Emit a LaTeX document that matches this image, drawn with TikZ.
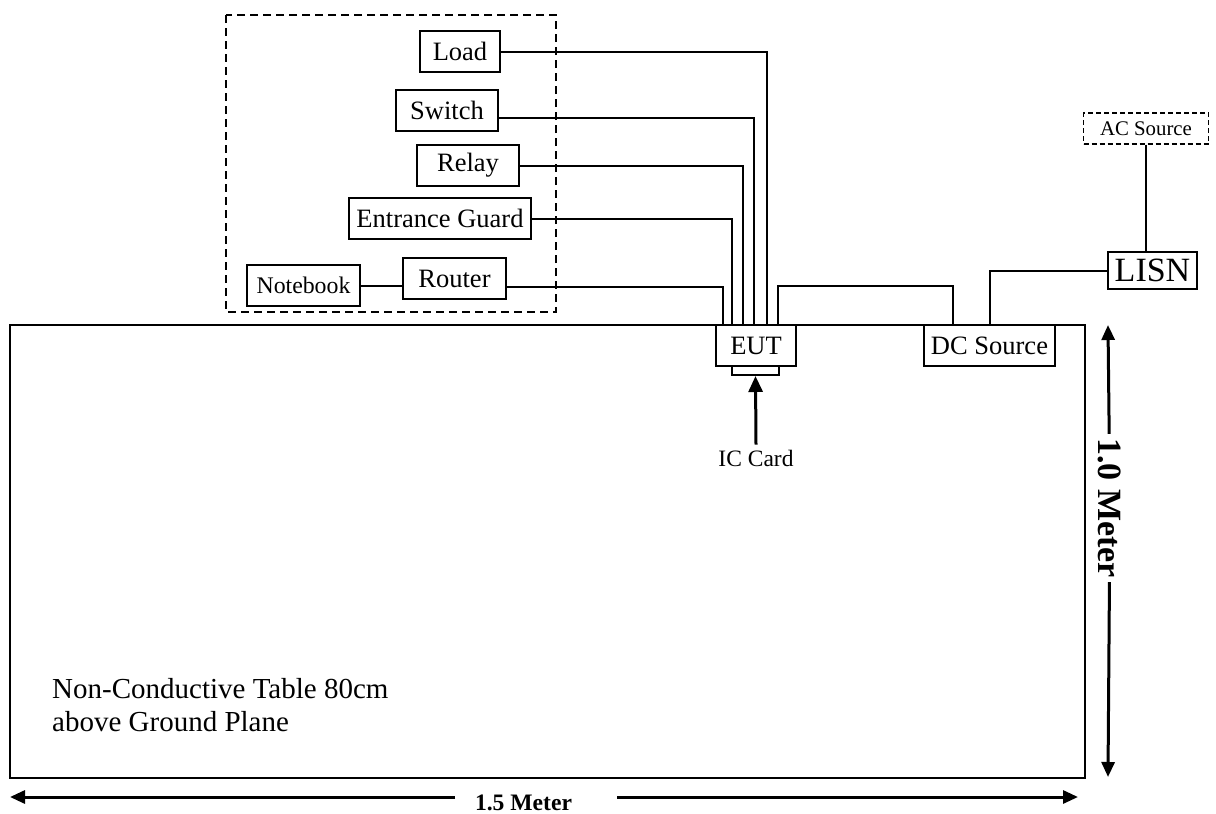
\documentclass[tikz,border=0pt]{standalone}
\usepackage{fontspec}
\setmainfont{Liberation Serif}
\usepackage{tikz}
\usetikzlibrary{arrows.meta,positioning}

\newcommand{\fsz}[1]{\fontsize{#1}{#1}\selectfont}

\begin{document}
\begin{tikzpicture}[x=1pt, y=-1pt,
  unit/.style={draw, line width=2pt, inner sep=0pt, font=\fsz{26.5}},
  wire/.style={line width=2pt},
  dimline/.style={line width=3pt, -{Triangle[length=15pt,width=13pt]}}]
\useasboundingbox (0,0) rectangle (1216,814);

% Non-conductive table
\draw[line width=2.5pt] (10,325) rectangle (1085,778);
\node[anchor=north west, inner sep=0pt, align=left, font=\fontsize{29}{33}\selectfont] (tabletext) at (52,678) {Non-Conductive Table 80cm\\above Ground Plane};

% Support units (dashed group)
\draw[line width=2pt, dash pattern=on 8pt off 5pt] (226,15) rectangle (556,312);
\node[unit, minimum width=80pt, minimum height=41pt] (load) at (460,51.5) {Load};
\node[unit, minimum width=102pt, minimum height=41pt] (switch) at (447,110.5) {Switch};
\node[unit, minimum width=102pt, minimum height=41pt] (relay) at (468,165.5) {Relay};
\node[unit, minimum width=182pt, minimum height=41pt] (guard) at (440,218.5) {Entrance Guard};
\node[unit, minimum width=113pt, minimum height=41pt, font=\fsz{23.8}] (notebook) at (303.5,285.5) {Notebook};
\node[unit, minimum width=103pt, minimum height=41pt] (router) at (454.5,278.5) {Router};

% EUT and card slot
\node[unit, minimum width=80pt, minimum height=41pt] (eut) at (756,345.5) {EUT};
\node[draw, line width=2pt, inner sep=0pt, minimum width=47pt, minimum height=9pt] (slot) at (755.5,370.5) {};
\node[font=\fsz{23.5}, inner sep=5pt] (card) at (756,458) {IC Card};
\draw[line width=3pt, -{Triangle[length=16pt,width=14pt]}] (card.north) -- (slot.south);

% Power
\node[unit, minimum width=131pt, minimum height=41pt] (dcsrc) at (989.5,345.5) {DC Source};
\node[unit, minimum width=89pt, minimum height=37pt, font=\fsz{34}] (lisn) at (1152.5,270.5) {LISN};
\node[draw, line width=1.3pt, dash pattern=on 5pt off 3pt, inner sep=0pt, minimum width=125pt, minimum height=31pt, font=\fsz{20.8}] (acsrc) at (1146,128.5) {AC Source};

% Cables
\draw[wire] (notebook.east) -- (notebook.east -| router.west);
\draw[wire] (load.east) -| ([xshift=11pt]eut.north);
\draw[wire] ([yshift=-7.5pt]switch.east) -| ([xshift=-2pt]eut.north);
\draw[wire] (relay.east) -| ([xshift=-13pt]eut.north);
\draw[wire] (guard.east) -| ([xshift=-24pt]eut.north);
\draw[wire] ([yshift=-8.5pt]router.east) -| ([xshift=-33pt]eut.north);
\draw[wire] ([xshift=22pt]eut.north) -- ++(0,-38) -| ([xshift=-36.5pt]dcsrc.north);
\draw[wire] (dcsrc.north) |- (lisn.west);
\draw[wire] (acsrc.south) -- (acsrc.south |- lisn.north);

% Dimensions
\coordinate (vt) at (1108,325);
\coordinate (vb) at (1108,777);
\node[rotate=-90, inner sep=4pt, font=\bfseries\fsz{34}] (height) at (1110,508) {1.0 Meter};
\draw[dimline] (height) -- (vt);
\draw[dimline] (height) -- (vb);

\coordinate (wl) at (10,797);
\coordinate (wr) at (1078,797);
\coordinate (gl) at (455,797);
\coordinate (gr) at (617,797);
\node[anchor=base, inner sep=0pt, font=\bfseries\fsz{23.6}] (width) at (523.5,810) {1.5 Meter};
\draw[dimline] (gl) -- (wl);
\draw[dimline] (gr) -- (wr);

\end{tikzpicture}
\end{document}
